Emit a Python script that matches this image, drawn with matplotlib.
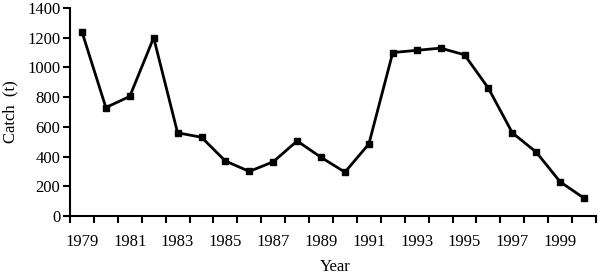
import matplotlib
matplotlib.use("Agg")
import matplotlib.pyplot as plt
import numpy as np

years = list(range(1979, 2001))
catch = [1240, 730, 805, 1200, 560, 530, 370, 300, 365, 505, 395, 295,
         485, 1100, 1115, 1130, 1085, 860, 560, 430, 230, 120]
yticks = [0, 200, 400, 600, 800, 1000, 1200, 1400]

plt.rcParams['font.family'] = ['Liberation Serif', 'DejaVu Serif']

fig = plt.figure(figsize=(5.99, 2.76), dpi=100)
ax = fig.add_axes([70/599, 60/276, 526/599, 208/276])

x = np.arange(len(years))
ax.plot(x, catch, color='black', lw=2, marker='s', ms=5, mfc='black', mec='black')

ax.set_xlim(-0.5, len(years) - 0.5)
ax.set_ylim(0, 1400)
ax.set_yticks(yticks)
ax.set_yticklabels([str(v) for v in yticks], fontsize=12)

ax.set_xticks(np.arange(len(years) + 1) - 0.5)
ax.set_xticklabels([])
ax.tick_params(axis='x', which='major', direction='out', length=5, width=1.5)
ax.set_xticks(x[::2], minor=True)
ax.set_xticklabels([str(y) for y in years[::2]], minor=True, fontsize=12)
ax.tick_params(axis='x', which='minor', length=0, pad=13)
ax.tick_params(axis='y', direction='out', length=5, width=1.5, pad=2)

for s in ['top', 'right']:
    ax.spines[s].set_visible(False)
for s in ['left', 'bottom']:
    ax.spines[s].set_linewidth(1.5)

ax.set_ylabel('Catch  (t)', fontsize=12, labelpad=6)
fig.text(335/599, 1 - 267/276, 'Year', ha='center', va='center', fontsize=12)

fig.savefig('out.png', dpi=100)
